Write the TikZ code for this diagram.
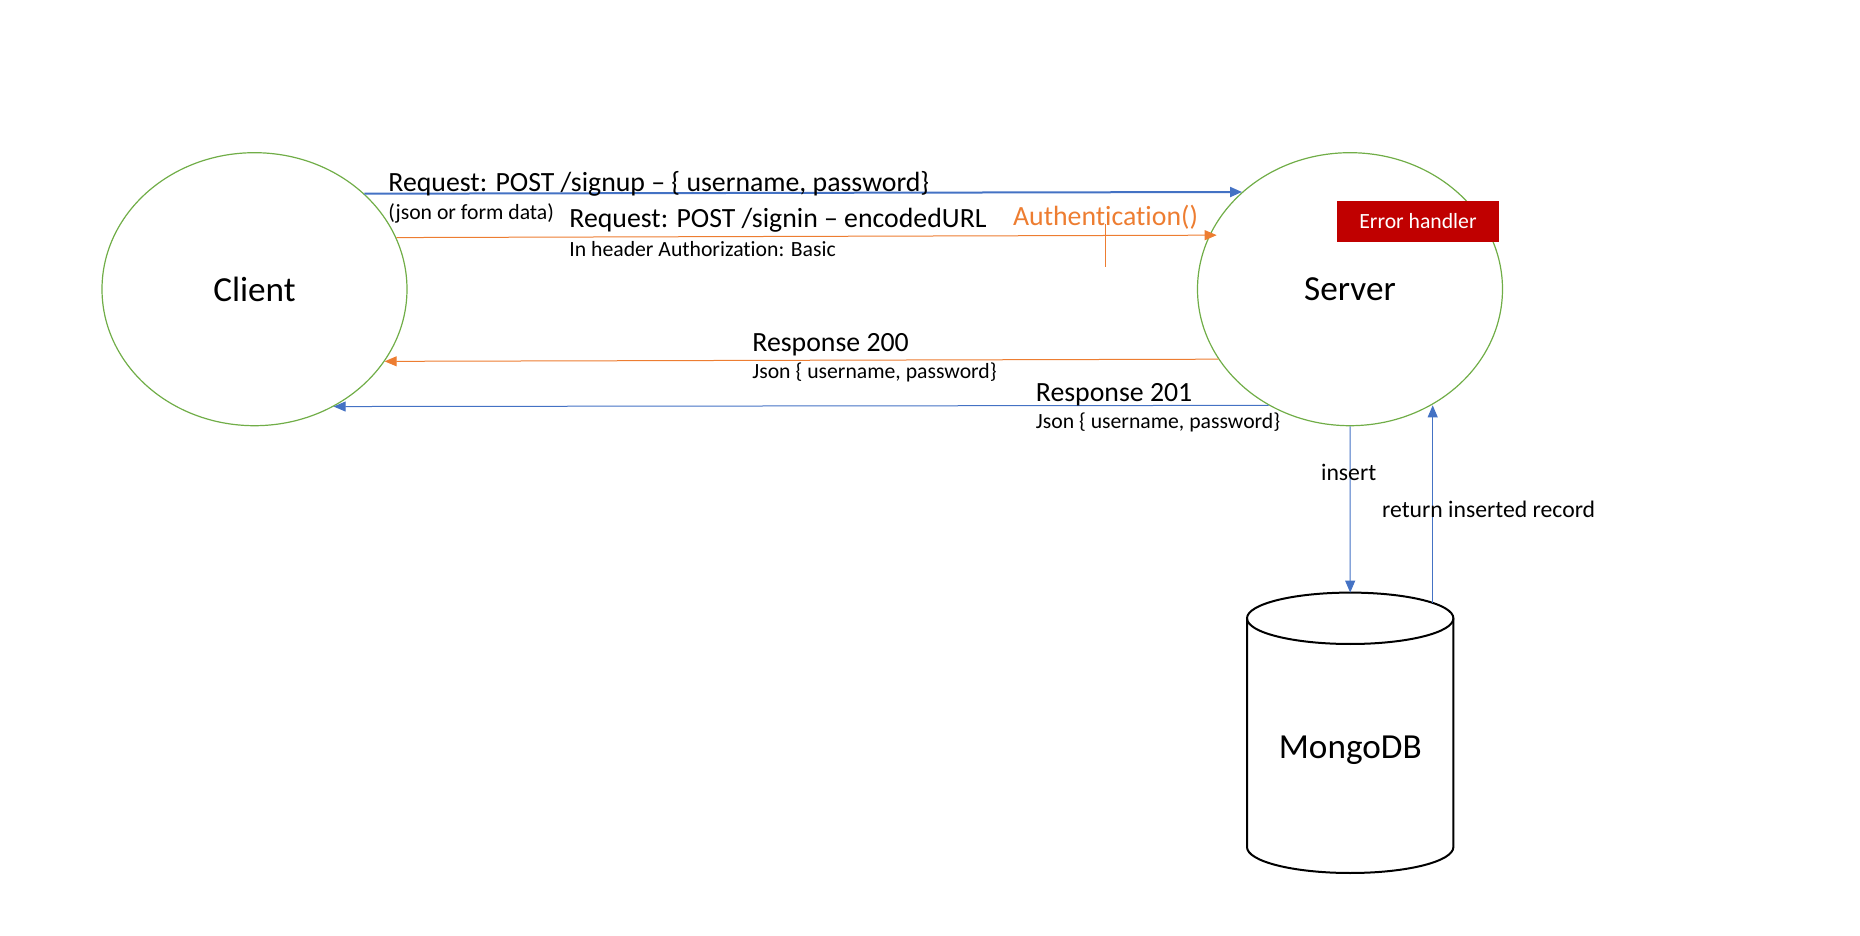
\documentclass[tikz,border=0pt]{standalone}
\usepackage{fontspec}
\setmainfont{Carlito}[Ligatures={TeX,NoCommon}]
\usetikzlibrary{arrows.meta,shapes.geometric}
\definecolor{msblue}{HTML}{4472C4}
\definecolor{msorange}{HTML}{ED7D31}
\definecolor{msgreen}{HTML}{70AD47}
\definecolor{msred}{HTML}{C00000}
\newcommand{\bigtxt}{\fontsize{17.6}{21}\selectfont}
\newcommand{\medtxt}{\fontsize{13.9}{16}\selectfont}
\newcommand{\midtxt}{\fontsize{11.85}{14}\selectfont}
\newcommand{\smalltxt}{\fontsize{10.85}{13}\selectfont}

\begin{document}
\begin{tikzpicture}
        [x=0.5pt, y=-0.5pt,
        party/.style={ellipse,draw=msgreen,line width=0.6pt,minimum width=152.5pt,
          minimum height=136.5pt,inner sep=0pt,font=\bigtxt},
        errbox/.style={fill=msred,text=white,minimum width=81pt,minimum height=20.3pt,
          inner sep=0pt,font=\smalltxt},
        lbl/.style={anchor=base west,inner sep=0pt},
        dbline/.style={black,line width=1pt},
        bluearr/.style={-{Triangle[length=6pt,width=5pt]},msblue,line width=0.5pt},
        orangearr/.style={-{Triangle[length=6pt,width=5pt]},msorange,line width=0.5pt}]
        \useasboundingbox (0,0) rectangle (1860,936);
        \node (client) at (254.5,289.2) [party] {Client};
        \node (server) at (1350,289.2) [party] {Server};
        \node (err) at (1418,221.4) [errbox] {Error handler};

        \draw[dbline] (1247,618.3) -- (1247,847)
          arc[start angle=180, end angle=0, x radius=103.2, y radius=26] -- (1453.4,618.3);
        \draw[dbline] (1350.2,618.3) ellipse [x radius=103.2, y radius=25.7];
        \node (db) at (1350.3,758.2) [anchor=base,font=\bigtxt] {MongoDB};
        \coordinate (dbtop) at (1350.2,592.6);
        \coordinate (dbrim) at (1432.7,602.9);

        \draw[bluearr,line width=1pt] (client.41.8) -- (server.138.2);
        \draw[orangearr,shorten >=-3.7pt] (client.20.5) -- (server.159.5);
        \draw[orangearr] (server.208.2) -- (client.331.8);
        \draw[bluearr] (server.235.1) -- (client.304.9);
        \draw[bluearr] (server.south) -- (dbtop);
        \draw[bluearr] (dbrim) -- (dbrim |- server.305.8);
        \draw[msorange,line width=0.5pt] (1105.3,224) -- (1105.3,267.3);

        \node (signup) at (388,192) [lbl,font=\medtxt] {Request: POST /signup – \{ username, password\}};
        \node (form) at (388,220) [lbl,font=\smalltxt] {(json or form data)};
        \node (signin) at (569,228) [lbl,font=\medtxt] {Request: POST /signin – encodedURL};
        \node (hdr) at (569,256.5) [lbl,font=\smalltxt] {In header Authorization: Basic};
        \node (auth) at (1012.7,225.3) [lbl,font=\medtxt,text=msorange] {Authentication()};
        \node (r200) at (752,352) [lbl,font=\medtxt] {Response 200};
        \node (j200) at (752,379) [lbl,font=\smalltxt] {Json \{ username, password\}};
        \node (r201) at (1035.5,402) [lbl,font=\medtxt] {Response 201};
        \node (j201) at (1035.5,428.6) [lbl,font=\smalltxt] {Json \{ username, password\}};
        \node (ins) at (1320.7,480.5) [lbl,font=\midtxt] {insert};
        \node (ret) at (1381.7,517.5) [lbl,font=\midtxt] {return inserted record};
      \end{tikzpicture}
\end{document}
